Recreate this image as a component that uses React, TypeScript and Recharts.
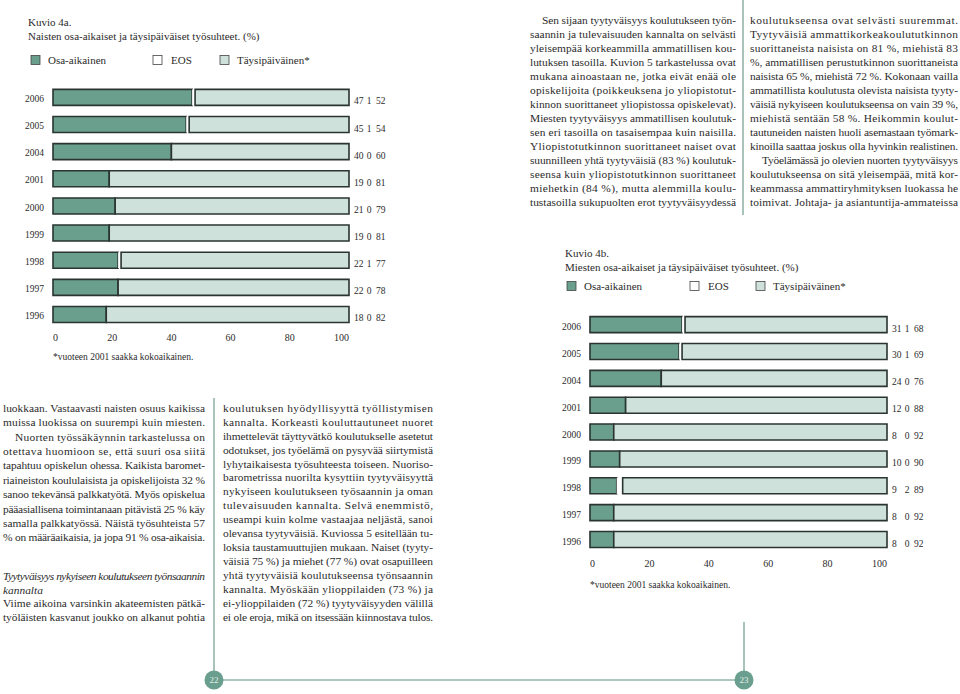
import React from 'react';
import { BarChart, Bar, XAxis, YAxis, LabelList } from 'recharts';

// ---------- data ----------
const years = ['2006', '2005', '2004', '2001', '2000', '1999', '1998', '1997', '1996'];
const naisetOsa = [47, 45, 40, 19, 21, 19, 22, 22, 18];
const naisetEos = [1, 1, 0, 0, 0, 0, 1, 0, 0];
const naisetTaysi = [52, 54, 60, 81, 79, 81, 77, 78, 82];
const miehetOsa = [31, 30, 24, 12, 8, 10, 9, 8, 8];
const miehetEos = [1, 1, 0, 0, 0, 0, 2, 0, 0];
const miehetTaysi = [68, 69, 76, 88, 92, 90, 89, 92, 92];
const xTicks = [0, 20, 40, 60, 80, 100];
const legendLabels = ['Osa-aikainen', 'EOS', 'Täysipäiväinen*'];
const footnote = '*vuoteen 2001 saakka kokoaikainen.';

// ---------- styles ----------
const OSA = '#6a9f8e';
const EOS = '#ffffff';
const TAYSI = '#cfe1db';
const EDGE = '#2a3431';
const INK = '#2b2b2b';
const RULE = '#93b4aa';
const FONT = '"Liberation Serif", "DejaVu Serif", serif';
const W = 960;
const H = 694;
const XH = 20;

type Row = { year: string; osa: number; eos: number; taysi: number };
const buildRows = (osa: number[], eos: number[], taysi: number[]): Row[] =>
  years.map((y, i) => ({ year: y, osa: osa[i], eos: eos[i], taysi: taysi[i] }));

const naisetRows = buildRows(naisetOsa, naisetEos, naisetTaysi);
const miehetRows = buildRows(miehetOsa, miehetEos, miehetTaysi);

type Frame = { left: number; right: number; top: number; bottom: number };

function Figure({ rows, frame }: { rows: Row[]; frame: Frame }) {
  const ValueLabel = (props: any) => {
    const vb = props.viewBox && props.viewBox.width !== undefined ? props.viewBox : props;
    const r = rows[props.index];
    if (!r || vb.x === undefined) return null;
    const xr = vb.x + vb.width;
    const cy = vb.y + vb.height / 2 + 4;
    return (
      <g fontFamily={FONT} fontSize={9.5} fill={INK}>
        <text x={xr + 5} y={cy} dominantBaseline="central">{r.osa}</text>
        <text x={xr + 20} y={cy} textAnchor="middle" dominantBaseline="central">{r.eos}</text>
        <text x={xr + 27} y={cy} dominantBaseline="central">{r.taysi}</text>
      </g>
    );
  };
  const XTick = (p: any) => {
    const v = p.payload.value;
    const anchor = v === 0 ? 'start' : v === 100 ? 'end' : 'middle';
    return (
      <text x={p.x} y={p.y + 10} textAnchor={anchor} dominantBaseline="central"
        fontFamily={FONT} fontSize={10} fill={INK}>{v}</text>
    );
  };
  const YTick = (p: any) => (
    <text x={p.x - 9} y={p.y + 2} textAnchor="end" dominantBaseline="central"
      fontFamily={FONT} fontSize={9.5} fill={INK}>{p.payload.value}</text>
  );
  return (
    <div style={{ position: 'absolute', left: 0, top: 0 }}>
      <BarChart
        width={W}
        height={H}
        data={rows}
        layout="vertical"
        barSize={16}
        margin={{ top: frame.top, left: 0, right: W - frame.right, bottom: H - frame.bottom - XH }}
      >
        <XAxis type="number" domain={[0, 100]} ticks={xTicks} height={XH} axisLine={false}
          tickLine={false} tickSize={0} tickMargin={0} interval={0} tick={XTick} />
        <YAxis type="category" dataKey="year" width={frame.left} axisLine={false}
          tickLine={false} tickSize={0} tickMargin={0} interval={0} tick={YTick} />
        <Bar dataKey="osa" stackId="a" fill={OSA} stroke={EDGE} strokeWidth={1.6} isAnimationActive={false} />
        <Bar dataKey="eos" stackId="a" fill={EOS} isAnimationActive={false} />
        <Bar dataKey="taysi" stackId="a" fill={TAYSI} stroke={EDGE} strokeWidth={1.6} isAnimationActive={false}>
          <LabelList dataKey="taysi" content={ValueLabel} />
        </Bar>
      </BarChart>
    </div>
  );
}

// ---------- page text ----------
type L = { t: string; y: number; indent?: number; free?: boolean; italic?: boolean };
const seq = (lines: string[], y0: number, step: number, opts: Record<number, Partial<L>> = {}): L[] =>
  lines.map((t, i) => ({ t, y: y0 + i * step, ...(opts[i] || {}) }));

const rightCol1 = seq([
  'Sen sijaan tyytyväisyys koulutukseen työn-',
  'saannin ja tulevaisuuden kannalta on selvästi',
  'yleisempää korkeammilla ammatillisen kou-',
  'lutuksen tasoilla. Kuvion 5 tarkastelussa ovat',
  'mukana ainoastaan ne, jotka eivät enää ole',
  'opiskelijoita (poikkeuksena jo yliopistotut-',
  'kinnon suorittaneet yliopistossa opiskelevat).',
  'Miesten tyytyväisyys ammatillisen koulutuk-',
  'sen eri tasoilla on tasaisempaa kuin naisilla.',
  'Yliopistotutkinnon suorittaneet naiset ovat',
  'suunnilleen yhtä tyytyväisiä (83 %) koulutuk-',
  'seensa kuin yliopistotutkinnon suorittaneet',
  'miehetkin (84 %), mutta alemmilla koulu-',
  'tustasoilla sukupuolten erot tyytyväisyydessä',
], 20, 14, { 0: { indent: 12 } });

const rightCol2 = seq([
  'koulutukseensa ovat selvästi suuremmat.',
  'Tyytyväisiä ammattikorkeakoulututkinnon',
  'suorittaneista naisista on 81 %, miehistä 83',
  '%, ammatillisen perustutkinnon suorittaneista',
  'naisista 65 %, miehistä 72 %. Kokonaan vailla',
  'ammatillista koulutusta olevista naisista tyyty-',
  'väisiä nykyiseen koulutukseensa on vain 39 %,',
  'miehistä sentään 58 %. Heikommin koulut-',
  'tautuneiden naisten huoli asemastaan työmark-',
  'kinoilla saattaa joskus olla hyvinkin realistinen.',
  'Työelämässä jo olevien nuorten tyytyväisyys',
  'koulutukseensa on sitä yleisempää, mitä kor-',
  'keammassa ammattiryhmityksen luokassa he',
  'toimivat. Johtaja- ja asiantuntija-ammateissa',
], 20, 14, { 10: { indent: 12 } });

const leftCol1: L[] = [
  ...seq([
    'luokkaan. Vastaavasti naisten osuus kaikissa',
    'muissa luokissa on suurempi kuin miesten.',
    'Nuorten työssäkäynnin tarkastelussa on',
    'otettava huomioon se, että suuri osa siitä',
    'tapahtuu opiskelun ohessa. Kaikista baromet-',
    'riaineiston koululaisista ja opiskelijoista 32 %',
    'sanoo tekevänsä palkkatyötä. Myös opiskelua',
    'pääasiallisena toimintanaan pitävistä 25 % käy',
    'samalla palkkatyössä. Näistä työsuhteista 57',
    '% on määräaikaisia, ja jopa 91 % osa-aikaisia.',
  ], 408, 14.4, { 2: { indent: 12 } }),
  { t: 'Tyytyväisyys nykyiseen koulutukseen työnsaannin', y: 576, italic: true },
  { t: 'kannalta', y: 590, italic: true, free: true },
  { t: 'Viime aikoina varsinkin akateemisten pätkä-', y: 603 },
  { t: 'työläisten kasvanut joukko on alkanut pohtia', y: 617 },
];

const leftCol2 = seq([
  'koulutuksen hyödyllisyyttä työllistymisen',
  'kannalta. Korkeasti kouluttautuneet nuoret',
  'ihmettelevät täyttyvätkö koulutukselle asetetut',
  'odotukset, jos työelämä on pysyvää siirtymistä',
  'lyhytaikaisesta työsuhteesta toiseen. Nuoriso-',
  'barometrissa nuorilta kysyttiin tyytyväisyyttä',
  'nykyiseen koulutukseen työsaannin ja oman',
  'tulevaisuuden kannalta. Selvä enemmistö,',
  'useampi kuin kolme vastaajaa neljästä, sanoi',
  'olevansa tyytyväisiä. Kuviossa 5 esitellään tu-',
  'loksia taustamuuttujien mukaan. Naiset (tyyty-',
  'väisiä 75 %) ja miehet (77 %) ovat osapuilleen',
  'yhtä tyytyväisiä koulutukseensa työnsaannin',
  'kannalta. Myöskään ylioppilaiden (73 %) ja',
  'ei-ylioppilaiden (72 %) tyytyväisyyden välillä',
  'ei ole eroja, mikä on itsessään kiinnostava tulos.',
], 408, 13.93);

function Column({ lines, x, w }: { lines: L[]; x: number; w: number }) {
  return (
    <g fontFamily={FONT} fontSize={11.4} fill={INK}>
      {lines.map((l, i) => {
        const ind = l.indent || 0;
        return (
          <text key={i} x={x + ind} y={l.y + 3.8} fontStyle={l.italic ? 'italic' : 'normal'}
            textLength={l.free ? undefined : w - ind} lengthAdjust="spacing">{l.t}</text>
        );
      })}
    </g>
  );
}

function Header({ x, y, title, subtitle, legendX, legendTextX, legendY }:
  { x: number; y: number; title: string; subtitle: string; legendX: number[]; legendTextX: number[]; legendY: number }) {
  const fills = [OSA, EOS, TAYSI];
  return (
    <g fontFamily={FONT} fill={INK}>
      <text x={x} y={y} fontSize={11}>{title}</text>
      <text x={x} y={y + 14} fontSize={11}>{subtitle}</text>
      {legendLabels.map((lab, i) => (
        <g key={lab}>
          <rect x={legendX[i]} y={legendY - 4.5} width={9} height={9} fill={fills[i]} stroke="#444" strokeWidth={0.8} />
          <text x={legendTextX[i]} y={legendY} dominantBaseline="central" fontSize={11}>{lab}</text>
        </g>
      ))}
    </g>
  );
}

export default function App() {
  return (
    <div style={{ position: 'absolute', left: 0, top: 0, width: W, height: H, background: '#fff', overflow: 'hidden' }}>
      <Figure rows={naisetRows} frame={{ left: 53, right: 349, top: 83.4, bottom: 327.6 }} />
      <Figure rows={miehetRows} frame={{ left: 590, right: 887, top: 311.6, bottom: 553.4 }} />
      <svg width={W} height={H} style={{ position: 'absolute', left: 0, top: 0, pointerEvents: 'none' }}>
        <Header x={28} y={26} title="Kuvio 4a." subtitle="Naisten osa-aikaiset ja täysipäiväiset työsuhteet. (%)"
          legendX={[31, 153, 220]} legendTextX={[48, 171, 237]} legendY={60} />
        <Header x={565} y={257} title="Kuvio 4b." subtitle="Miesten osa-aikaiset ja täysipäiväiset työsuhteet. (%)"
          legendX={[567, 690, 756]} legendTextX={[584, 708, 773]} legendY={286} />
        <text x={53} y={357} dominantBaseline="central" fontFamily={FONT} fontSize={9.5} fill={INK}>{footnote}</text>
        <text x={590} y={585} dominantBaseline="central" fontFamily={FONT} fontSize={9.5} fill={INK}>{footnote}</text>

        <Column lines={rightCol1} x={530} w={206} />
        <Column lines={rightCol2} x={750} w={208} />
        <Column lines={leftCol1} x={3} w={202} />
        <Column lines={leftCol2} x={223} w={210} />

        <g stroke={RULE} strokeWidth={1.6} fill="none">
          <line x1={743} y1={0} x2={743} y2={215} />
          <line x1={214} y1={398} x2={214} y2={680} />
          <line x1={744} y1={622} x2={744} y2={680} />
          <line x1={214} y1={680} x2={744} y2={680} />
        </g>
        <g fontFamily={FONT} fontSize={9} fill="#e4eeea" textAnchor="middle">
          <circle cx={214} cy={680} r={9.5} fill="#6a9e8e" />
          <text x={214} y={680} dominantBaseline="central">22</text>
          <circle cx={744} cy={680} r={9.5} fill="#6a9e8e" />
          <text x={744} y={680} dominantBaseline="central">23</text>
        </g>
      </svg>
    </div>
  );
}
